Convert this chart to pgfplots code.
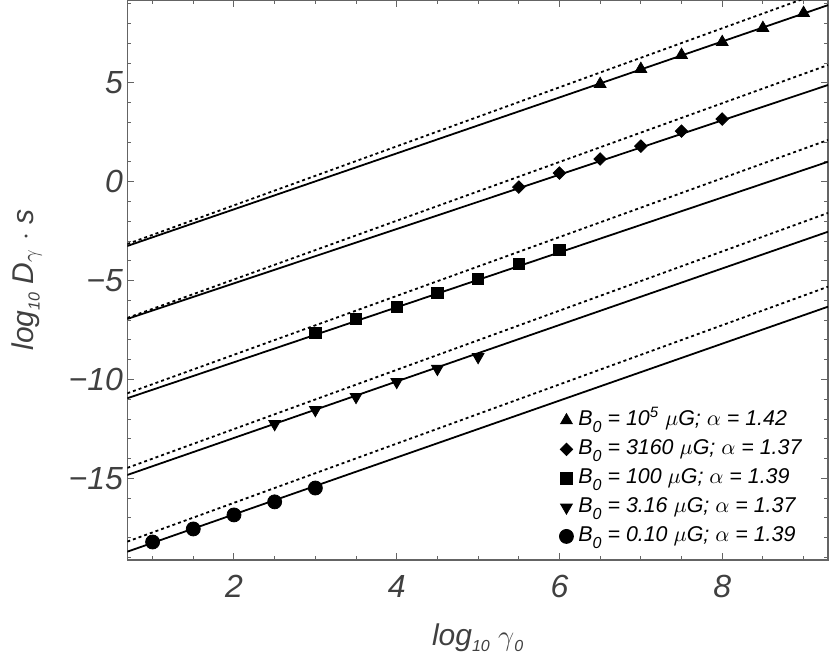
\documentclass[border=0pt]{standalone}
\usepackage{fontspec}
\setmainfont{Liberation Sans}
\usepackage{pgfplots}
\pgfplotsset{compat=1.18}
\usetikzlibrary{calc}
\definecolor{lab}{RGB}{64,64,64}
\definecolor{frame}{RGB}{100,100,100}
\newcommand{\lsub}[1]{\raisebox{-3.2pt}{\fontsize{8}{9}\selectfont #1}}
\begin{document}
\begin{tikzpicture}
\begin{axis}[
 scale only axis, width=350.35pt, height=280pt,
 xmin=0.689, xmax=9.30, ymin=-19.13, ymax=9.19,
 axis line style={frame, line width=0.6pt},
 every tick/.style={frame, line width=0.5pt},
 major tick length=3.5pt, minor tick length=2pt,
 tick align=inside, tick pos=both,
 xtick={2,4,6,8},
 minor xtick={1,1.5,2.5,3,3.5,4.5,5,5.5,6.5,7,7.5,8.5,9},
 ytick={-15,-10,-5,0,5}, yticklabels={−15,−10,−5,0,5},
 minor ytick={-19,-18,...,9},
 /pgf/number format/assume math mode=true,
 ticklabel style={font=\fontsize{16}{19}\selectfont\itshape, text=lab},
 xticklabel style={inner sep=0pt, yshift=-7.5pt},
 yticklabel style={inner sep=0pt, xshift=-2pt},
 xlabel={log\lsub{10} $\gamma$\lsub{0}},
 ylabel={log\lsub{10} D$_\gamma$ $\cdot$ s},
 label style={font=\fontsize{15}{18}\selectfont\itshape, text=lab},
 xlabel style={at={($(axis description cs:0.5,0)+(0,-42.5pt)$)}, anchor=base},
 ylabel style={at={($(axis description cs:0,0.5)+(-47pt,0)$)}, anchor=base, rotate=0},
 legend style={draw=none, fill=none, at={(0.6018,0.2741)}, anchor=north west,
   font=\fontsize{10.7}{13}\selectfont\itshape, row sep=1pt, inner sep=0pt,
   nodes={inner sep=1.5pt, text height=8pt, text depth=2.5pt}},
 legend cell align=left,
 legend image code/.code={\path[draw=none,fill=none] (-0.3cm,0) -- (4.5pt,0);\draw[#1] plot coordinates {(0cm,0cm)};},
]
% solid fits
\addplot[black, line width=0.9pt, forget plot] coordinates {(0.689,-3.25) (9.30,8.93)};
\addplot[black, line width=0.9pt, forget plot] coordinates {(0.689,-6.94) (9.30,4.89)};
\addplot[black, line width=0.9pt, forget plot] coordinates {(0.689,-10.95) (9.30,1.01)};
\addplot[black, line width=0.9pt, forget plot] coordinates {(0.689,-14.83) (9.30,-2.53)};
\addplot[black, line width=0.9pt, forget plot] coordinates {(0.689,-18.71) (9.30,-6.32)};
% dotted
\addplot[black, line width=0.9pt, dash pattern=on 1.5pt off 1.5pt, forget plot] coordinates {(0.689,-3.15) (9.30,9.70)};
\addplot[black, line width=0.9pt, dash pattern=on 1.5pt off 1.5pt, forget plot] coordinates {(0.689,-6.89) (9.30,5.90)};
\addplot[black, line width=0.9pt, dash pattern=on 1.5pt off 1.5pt, forget plot] coordinates {(0.689,-10.70) (9.30,2.11)};
\addplot[black, line width=0.9pt, dash pattern=on 1.5pt off 1.5pt, forget plot] coordinates {(0.689,-14.47) (9.30,-1.58)};
\addplot[black, line width=0.9pt, dash pattern=on 1.5pt off 1.5pt, forget plot] coordinates {(0.689,-18.2) (9.30,-5.31)};
% data
\addplot[only marks, mark=triangle*, mark size=3.4pt, black] coordinates {(6.5,4.94) (7,5.70) (7.5,6.41) (8,7.06) (8.5,7.77) (9,8.53)};
\addlegendentry{B\lsub{0} = 10\textsuperscript{5} $\mu$G; $\alpha$ = 1.42}
\addplot[only marks, mark=square*, mark size=2.2pt, mark options={rotate=45}, black] coordinates {(5.5,-0.27) (6,0.44) (6.5,1.15) (7,1.80) (7.5,2.56) (8,3.17)};
\addlegendentry{B\lsub{0} = 3160 $\mu$G; $\alpha$ = 1.37}
\addplot[only marks, mark=square*, mark size=2.8pt, black] coordinates {(3,-7.65) (3.5,-6.94) (4,-6.33) (4.5,-5.63) (5,-4.92) (5.5,-4.16) (6,-3.45)};
\addlegendentry{B\lsub{0} = 100 $\mu$G; $\alpha$ = 1.39}
\addplot[only marks, mark=triangle*, mark size=3.4pt, mark options={rotate=180}, black] coordinates {(2.5,-12.25) (3,-11.54) (3.5,-10.88) (4,-10.12) (4.5,-9.46) (5,-8.86)};
\addlegendentry{B\lsub{0} = 3.16 $\mu$G; $\alpha$ = 1.37}
\addplot[only marks, mark=*, mark size=3.5pt, black] coordinates {(1,-18.22) (1.5,-17.56) (2,-16.85) (2.5,-16.19) (3,-15.49)};
\addlegendentry{B\lsub{0} = 0.10 $\mu$G; $\alpha$ = 1.39}
\end{axis}
\pgfresetboundingbox
\path[use as bounding box] ($(current axis.south west)+(-63.65pt,-52pt)$) rectangle ($(current axis.north east)+(1pt,0pt)$);
\end{tikzpicture}
\end{document}
